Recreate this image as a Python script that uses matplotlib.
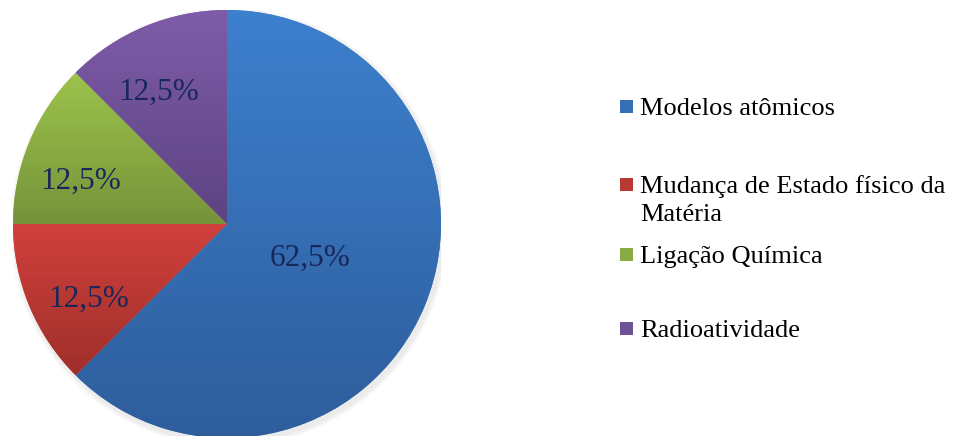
import numpy as np
import matplotlib.pyplot as plt
from matplotlib.colors import LinearSegmentedColormap, to_rgb
from matplotlib.patches import Rectangle, Circle

categories = ['Modelos atômicos', 'Mudança de Estado físico da\nMatéria',
              'Ligação Química', 'Radioatividade']
shares = [62.5, 12.5, 12.5, 12.5]
pct_labels = ['62,5%', '12,5%', '12,5%', '12,5%']
top_colors = ['#3d80ce', '#d1403c', '#9dc44c', '#7e5ca9']
bottom_colors = ['#2e5d9b', '#9f2f2b', '#76923a', '#5d4382']

W, H = 957, 436
plt.rcParams['font.family'] = ['Liberation Serif', 'DejaVu Serif']

fig = plt.figure(figsize=(W / 100, H / 100), dpi=100)
cx, cy, r = 227, 224, 214
ax = fig.add_axes([(cx - r) / W, 1 - (cy + r) / H, 2 * r / W, 2 * r / H])

# soft shadow behind the pie
for k, a in enumerate([0.05, 0.05, 0.05]):
    ax.add_patch(Circle((0.01, -0.015), 1 + 0.008 * (k + 1), color='gray',
                        alpha=a, lw=0, zorder=0))

wedges, _ = ax.pie(shares, startangle=90, counterclock=False, radius=1,
                   colors=top_colors, wedgeprops=dict(linewidth=0, zorder=1))

# vertical gradient on each slice
grad = np.linspace(0, 1, 256).reshape(-1, 1)
for w, c0, c1 in zip(wedges, top_colors, bottom_colors):
    v = w.get_path().vertices
    cmap = LinearSegmentedColormap.from_list('g', [c1, c0])
    im = ax.imshow(grad, cmap=cmap, origin='lower', aspect='auto', zorder=2,
                   extent=[v[:, 0].min(), v[:, 0].max(), v[:, 1].min(), v[:, 1].max()])
    im.set_clip_path(w)

for i, (w, lab) in enumerate(zip(wedges, pct_labels)):
    ang = np.deg2rad((w.theta1 + w.theta2) / 2 + 4)
    d = 0.41 if i == 0 else 0.72
    ax.text(d * np.cos(ang), d * np.sin(ang) - 0.03, lab, ha='center', va='center',
            fontsize=22.5, color='#18285a', zorder=3)

ax.set_xlim(-1, 1)
ax.set_ylim(-1, 1)
ax.axis('off')

# legend on the right
baselines = [115, 193, 263, 337]
for lab, c0, c1, yb in zip(categories, top_colors, bottom_colors, baselines):
    mid = tuple((np.array(to_rgb(c0)) + np.array(to_rgb(c1))) / 2)
    fig.add_artist(Rectangle((620 / W, 1 - (yb - 2) / H), 13 / W, 13 / H,
                             transform=fig.transFigure, color=mid, lw=0))
    first, *rest = lab.split('\n')
    fig.text(640 / W, 1 - yb / H, first, fontsize=19, va='baseline', ha='left')
    for j, line in enumerate(rest):
        fig.text(640 / W, 1 - (yb + 28 * (j + 1)) / H, line, fontsize=19,
                 va='baseline', ha='left')

fig.savefig('out.png', dpi=100)
